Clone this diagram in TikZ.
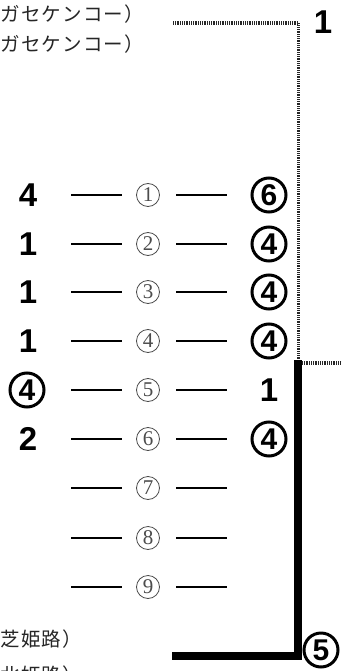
\documentclass[tikz,border=0pt]{standalone}
\usepackage{fontspec}
\setmainfont{Liberation Sans}
\newfontfamily\jp[LetterSpace=7]{Noto Sans CJK JP}
\newfontfamily\serifnum{Liberation Serif}
\begin{document}
\begin{tikzpicture}[x=1pt,y=-1pt,
  num/.style={font=\fontsize{33}{33}\selectfont\bfseries, inner sep=0pt},
  cnum/.style={circle, draw, line width=3pt, minimum size=34pt, inner sep=0pt, font=\fontsize{30}{30}\selectfont\bfseries},
  midc/.style={circle, draw=black!70, line width=0.8pt, minimum size=23pt, inner sep=0pt, text=black!70, font=\serifnum\fontsize{21}{21}\selectfont},
  bar/.style={line width=1.6pt},
  dotline/.style={line width=3.5pt, dash pattern=on 1pt off 0.8pt, black!85},
  thick bracket/.style={line width=8pt},
  jtext/.style={anchor=west, font=\jp\fontsize{19.5}{19.5}\selectfont, text=black!85, inner sep=0pt}
]
\useasboundingbox (0,0) rectangle (342,671);
\clip (0,0) rectangle (342,671);
\fill[white] (0,0) rectangle (342,671);

% Japanese text
\node[jtext] (t1) at (0,14) {ガセケンコー）};
\node[jtext] (t2) at (0,44) {ガセケンコー）};
\node[jtext] (t3) at (0,639) {芝姫路）};
\node[jtext] (t4) at (0,675) {北姫路）};

% rows
\foreach \i/\y in {1/195,2/244,3/292,4/341,5/390,6/439,7/488,8/538,9/587}{
  \node[midc] (m\i) at (148,\y) {\i};
  \coordinate (la\i) at (71,\y);
  \coordinate (lb\i) at (122,\y);
  \coordinate (ra\i) at (176,\y);
  \coordinate (rb\i) at (227,\y);
  \draw[bar] (la\i) -- (lb\i);
  \draw[bar] (ra\i) -- (rb\i);
}

% left column
\node[num] (l1) at (28,195) {4};
\node[num] (l2) at (28,244) {1};
\node[num] (l3) at (28,292) {1};
\node[num] (l4) at (28,341) {1};
\node[cnum] (l5) at (27,390) {4};
\node[num] (l6) at (28,439) {2};

% right column
\node[cnum] (r1) at (269,195) {6};
\node[cnum] (r2) at (269,244) {4};
\node[cnum] (r3) at (269,292) {4};
\node[cnum] (r4) at (269,341) {4};
\node[num] (r5) at (269,390) {1};
\node[cnum] (r6) at (269,439) {4};

% bracket
\node[num] (top1) at (323,22) {1};
\node[cnum] (bot5) at (321,650) {5};
\coordinate (da) at (173,23);
\coordinate (db) at (298.5,23);
\coordinate (dc) at (298.5,360);
\coordinate (dd) at (302,363);
\coordinate (de) at (342,363);
\coordinate (sa) at (298,360);
\coordinate (sb) at (298,656);
\coordinate (sc) at (172,656);
\draw[dotline] (da) -- (db) -- (dc);
\draw[dotline] (dd) -- (de);
\draw[thick bracket] (sa) -- (sb) -- (sc);
\end{tikzpicture}
\end{document}
